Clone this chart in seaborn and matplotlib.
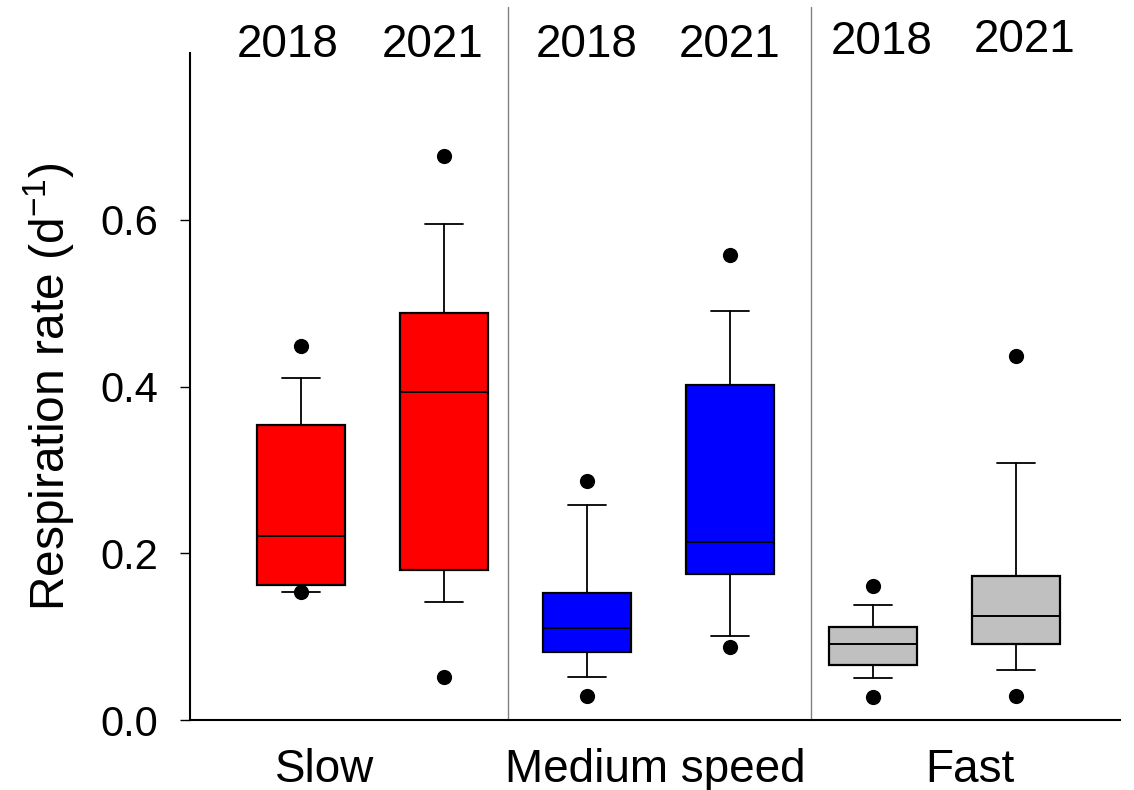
import matplotlib
matplotlib.use("Agg")
import matplotlib.pyplot as plt
import matplotlib.transforms as mtransforms
import seaborn as sns
import pandas as pd

# ---------------- data ----------------
speeds = ["Slow", "Slow", "Medium speed", "Medium speed", "Fast", "Fast"]
years = ["2018", "2021", "2018", "2021", "2018", "2021"]
q1 = [0.162, 0.180, 0.082, 0.175, 0.066, 0.091]
median = [0.221, 0.393, 0.110, 0.214, 0.091, 0.125]
q3 = [0.354, 0.488, 0.152, 0.402, 0.112, 0.173]
whisker_low = [0.154, 0.142, 0.052, 0.101, 0.050, 0.060]
whisker_high = [0.410, 0.595, 0.258, 0.491, 0.138, 0.308]
outlier_low = [0.154, 0.052, 0.029, 0.088, 0.028, 0.029]
outlier_high = [0.449, 0.677, 0.287, 0.558, 0.161, 0.437]
group_labels = ["Slow", "Medium speed", "Fast"]
ytick_values = [0.0, 0.2, 0.4, 0.6]
ytick_labels = ["0.0", "0.2", "0.4", "0.6"]
ylabel_text = "Respiration rate (d$^{-1}$)"
box_colors = ["#FF0000", "#FF0000", "#0000FF", "#0000FF", "#C0C0C0", "#C0C0C0"]

# ---------------- style ----------------
sns.set_theme(style="ticks")
plt.rcParams["font.family"] = ["Liberation Sans", "DejaVu Sans"]
plt.rcParams["mathtext.fontset"] = "custom"
plt.rcParams["mathtext.rm"] = "Liberation Sans"
plt.rcParams["mathtext.it"] = "Liberation Sans:italic"
plt.rcParams["mathtext.default"] = "regular"

FS_TEXT = 33
FS_TICK = 30
FS_YLAB = 34.5

fig = plt.figure(figsize=(11.34, 7.9), dpi=100)
ax = fig.add_axes([190 / 1134, 70 / 790, 930 / 1134, 666.7 / 790])

positions = list(range(len(years)))
stats = []
for i in positions:
    stats.append(dict(med=median[i], q1=q1[i], q3=q3[i],
                      whislo=whisker_low[i], whishi=whisker_high[i], fliers=[]))

bp = ax.bxp(stats, positions=positions, widths=0.61, capwidths=0.265,
            patch_artist=True, showfliers=False,
            boxprops=dict(linewidth=1.6, edgecolor="black"),
            medianprops=dict(color="black", linewidth=1.4),
            whiskerprops=dict(color="black", linewidth=1.3),
            capprops=dict(color="black", linewidth=1.3))
for patch, c in zip(bp["boxes"], box_colors):
    patch.set_facecolor(c)

df_out = pd.DataFrame({"pos": positions + positions,
                       "value": outlier_low + outlier_high})
sns.scatterplot(data=df_out, x="pos", y="value", color="black", s=120,
                linewidth=0, zorder=5, legend=False, ax=ax)

ax.set_xlim(-0.776, 5.727)
ax.set_ylim(0, 0.8)
ax.set_xticks([])
ax.set_yticks(ytick_values)
ax.set_yticklabels(ytick_labels)
ax.tick_params(axis="y", length=7.5, width=1.0, pad=15.5, labelsize=FS_TICK,
               direction="out", color="black", labelcolor="black")
ax.set_xlabel("")
ax.set_ylabel(ylabel_text, fontsize=FS_YLAB, color="black")
ax.yaxis.set_label_coords(-0.121, 0.50)

for side in ["top", "right"]:
    ax.spines[side].set_visible(False)
for side in ["left", "bottom"]:
    ax.spines[side].set_color("black")
    ax.spines[side].set_linewidth(1.5)

# group dividers
for xd in [1.448, 3.565]:
    ax.plot([xd, xd], [0, 0.855], color="#808080", linewidth=1.0, clip_on=False)

trans = mtransforms.blended_transform_factory(ax.transData, ax.transAxes)
year_x_offset = [-0.09, -0.08, 0.0, 0.0, 0.06, 0.06]
year_y = [1.0125, 1.0125, 1.0125, 1.0125, 1.017, 1.02]
for i, t in enumerate(years):
    ax.text(positions[i] + year_x_offset[i], year_y[i], t, transform=trans,
            ha="center", va="center", fontsize=FS_TEXT, color="black", clip_on=False)

group_x = [0.168, 2.476, 4.68]
for gx, g in zip(group_x, group_labels):
    ax.text(gx, -0.075, g, transform=trans, ha="center", va="center",
            fontsize=FS_TEXT, color="black", clip_on=False)

fig.savefig("out.png", dpi=100)
